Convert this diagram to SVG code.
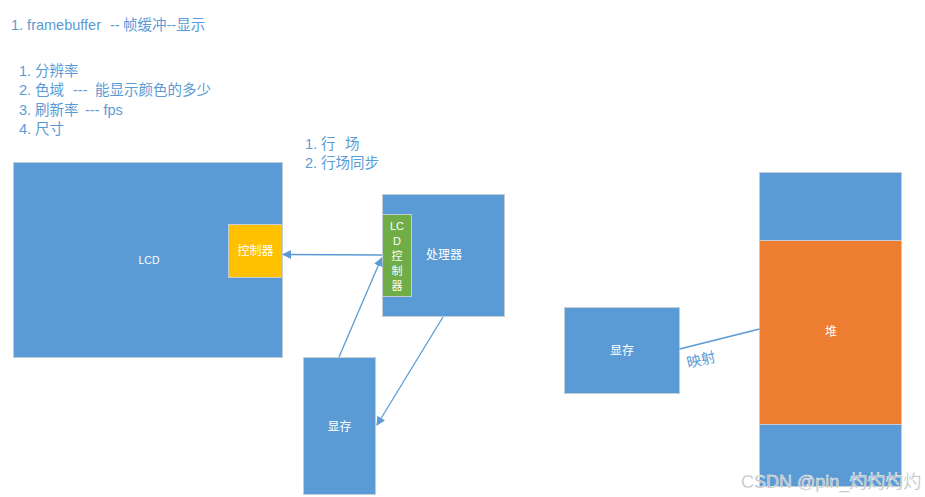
<svg xmlns="http://www.w3.org/2000/svg" width="925" height="497" viewBox="0 0 925 497">
<defs>
<style>
.note{font-family:"Liberation Sans","Noto Sans CJK SC",sans-serif;font-size:14.5px;fill:#5b9bd5}
.lbl{font-family:"Liberation Sans","Noto Sans CJK SC",sans-serif;font-size:12px;fill:#ffffff;text-anchor:middle;dominant-baseline:central}
.box{fill:#5b9bd5;stroke:#c3cdd8;stroke-width:1}
.ctl{fill:#ffc000;stroke:#c3cdd8;stroke-width:1}
.grn{fill:#70ad47;stroke:#c3cdd8;stroke-width:1}
.org{fill:#ed7d31;stroke:#c3cdd8;stroke-width:1}
.con{stroke:#5b9bd5;stroke-width:1.3;fill:none}
.wm{font-family:"Liberation Sans","Noto Sans CJK SC",sans-serif;font-size:18px;fill:#b4b4b4;stroke:#ffffff;stroke-width:0.4}
</style>
<marker id="ah" viewBox="0 0 10 10" refX="9" refY="5" markerWidth="9" markerHeight="9" markerUnits="userSpaceOnUse" orient="auto">
<path d="M0,0 L10,5 L0,10 z" fill="#5b9bd5"/>
</marker>
</defs>
<rect width="925" height="497" fill="#ffffff"/>

<g id="notes">
<text class="note" y="30"><tspan x="11">1. framebuffer</tspan><tspan x="110">--</tspan><tspan x="123">帧缓冲--显示</tspan></text>
<text class="note" x="19" y="76">1. 分辨率</text>
<text class="note" y="95"><tspan x="19">2. 色域</tspan><tspan x="73">---</tspan><tspan x="95">能显示颜色的多少</tspan></text>
<text class="note" y="115"><tspan x="19">3. 刷新率</tspan><tspan x="85">--- fps</tspan></text>
<text class="note" x="19" y="134">4. 尺寸</text>
<text class="note" y="149"><tspan x="305">1. 行</tspan><tspan x="345">场</tspan></text>
<text class="note" x="305" y="168">2. 行场同步</text>
</g>

<g id="lcd">
<rect class="box" x="13.5" y="162.5" width="269" height="195"/>
<text class="lbl" x="149" y="260" style="font-size:10.5px">LCD</text>
</g>
<g id="lcd-controller">
<rect class="ctl" x="228.5" y="224.5" width="54" height="53"/>
<text class="lbl" x="255.5" y="251">控制器</text>
</g>

<g id="processor">
<rect class="box" x="382.5" y="194.5" width="122" height="122"/>
<text class="lbl" x="444" y="255">处理器</text>
</g>
<g id="lcd-ctrl-chip">
<rect class="grn" x="382.5" y="214.5" width="29" height="82"/>
<text class="lbl" x="397" y="226" style="font-size:11px">LC</text>
<text class="lbl" x="397" y="241" style="font-size:11px">D</text>
<text class="lbl" x="397" y="256" style="font-size:11px">控</text>
<text class="lbl" x="397" y="271" style="font-size:11px">制</text>
<text class="lbl" x="397" y="286" style="font-size:11px">器</text>
</g>

<g id="vram-left">
<rect class="box" x="303.5" y="357.5" width="72" height="137"/>
<text class="lbl" x="339.5" y="427">显存</text>
</g>

<g id="vram-right">
<rect class="box" x="564.5" y="307.5" width="115" height="86"/>
<text class="lbl" x="622" y="351">显存</text>
</g>

<g id="memory">
<rect class="box" x="759.5" y="172.5" width="142" height="68"/>
<rect class="org" x="759.5" y="240.5" width="142" height="184"/>
<rect class="box" x="759.5" y="424.5" width="142" height="62"/>
<text class="lbl" x="831" y="332">堆</text>
</g>

<g id="connectors">
<line class="con" x1="382" y1="255" x2="283" y2="254.5" marker-end="url(#ah)"/>
<line class="con" x1="339" y1="357" x2="381.5" y2="258" marker-end="url(#ah)"/>
<line class="con" x1="443" y1="317" x2="377" y2="425" marker-end="url(#ah)"/>
<line class="con" x1="679.5" y1="349" x2="759.5" y2="329"/>
<text class="note" x="688" y="368" transform="rotate(-13 688 368)">映射</text>
</g>

<text class="wm" x="741" y="488">CSDN @pin_灼灼灼灼</text>
</svg>
